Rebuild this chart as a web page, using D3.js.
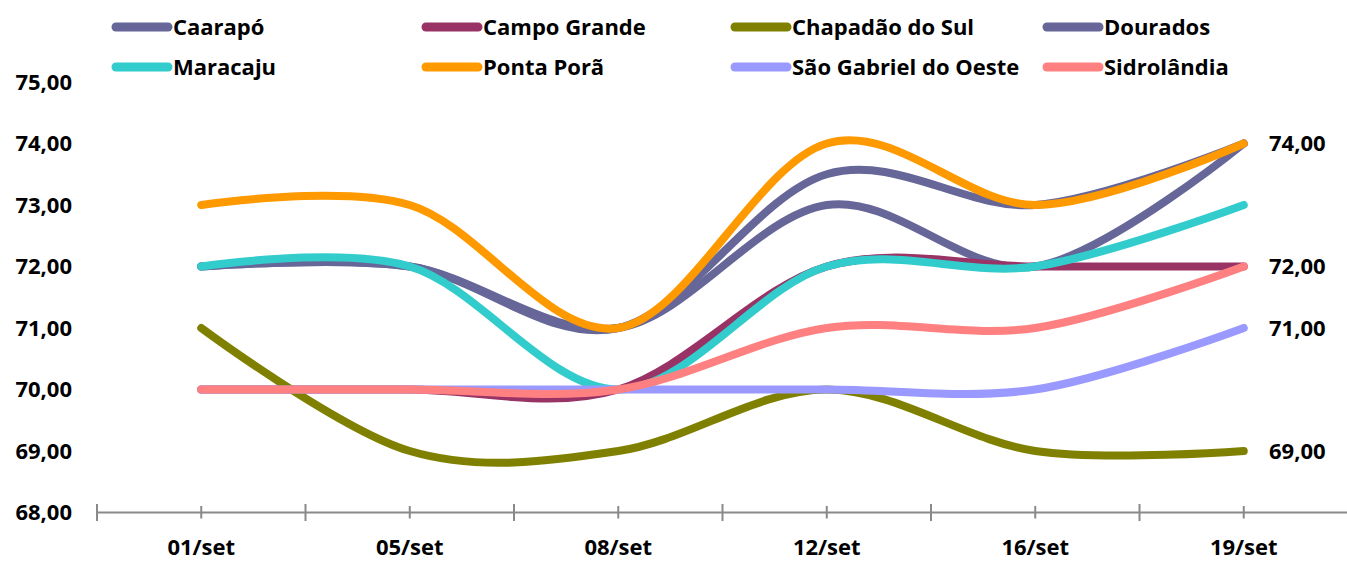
<!DOCTYPE html>
<html><head><meta charset="utf-8">
<script src="https://cdn.jsdelivr.net/npm/d3@7"></script>
<style>html,body{margin:0;padding:0;background:#fff;}svg{display:block;}</style>
</head><body>
<svg id="c" width="1347" height="561"></svg>
<script>
const categories = ["01/set","05/set","08/set","12/set","16/set","19/set"];
const seriesNames = ["Caarapó","Campo Grande","Chapadão do Sul","Dourados","Maracaju","Ponta Porã","São Gabriel do Oeste","Sidrolândia"];
const caarapo      = [72, 72, 71, 73,   72, 74];
const campoGrande  = [70, 70, 70, 72,   72, 72];
const chapadao     = [71, 69, 69, 70,   69, 69];
const dourados     = [72, 72, 71, 73.5, 73, 74];
const maracaju     = [72, 72, 70, 72,   72, 73];
const pontaPora    = [73, 73, 71, 74,   73, 74];
const saoGabriel   = [70, 70, 70, 70,   70, 71];
const sidrolandia  = [70, 70, 70, 71,   71, 72];
const seriesValues = [caarapo, campoGrande, chapadao, dourados, maracaju, pontaPora, saoGabriel, sidrolandia];
const seriesColors = ["#666699","#993366","#808000","#666699","#33CCCC","#FF9900","#9999FF","#FF8080"];
const yTicks = [68,69,70,71,72,73,74,75];
const labeledSeries = ["Chapadão do Sul","Ponta Porã","São Gabriel do Oeste","Sidrolândia"];

const svg = d3.select("#c");
const FONT = "'Open Sans', 'Liberation Sans', sans-serif";
const FS = 22;
const fmt = v => d3.format(".2f")(v).replace(".", ",");

const x = d3.scaleBand().domain(categories).range([97, 1348]);
const y = d3.scaleLinear().domain([68, 75]).range([512.5, 82]);
const cx = c => x(c) + x.bandwidth() / 2;

// x axis line
svg.append("line").attr("x1", 97).attr("x2", 1347).attr("y1", y(68)).attr("y2", y(68))
  .attr("stroke", "#898989").attr("stroke-width", 2);
// major ticks at band boundaries
const bounds = categories.map(c => x(c)).concat([x.range()[1]]);
svg.selectAll(".maj").data(bounds).join("line")
  .attr("x1", d => d).attr("x2", d => d).attr("y1", y(68) - 8.5).attr("y2", y(68) + 8.5)
  .attr("stroke", "#898989").attr("stroke-width", 2);
// minor ticks at centers
svg.selectAll(".min").data(categories).join("line")
  .attr("x1", d => cx(d)).attr("x2", d => cx(d)).attr("y1", y(68) - 6.5).attr("y2", y(68) + 6)
  .attr("stroke", "#898989").attr("stroke-width", 2);
// category labels
svg.selectAll(".cl").data(categories).join("text")
  .attr("x", d => cx(d)).attr("y", 555).attr("text-anchor", "middle")
  .attr("font-family", FONT).attr("font-weight", "bold").attr("font-size", FS)
  .attr("fill", "#000").text(d => d);
// y labels
svg.selectAll(".yl").data(yTicks).join("text")
  .attr("x", 72).attr("y", d => y(d)).attr("dy", "0.36em").attr("text-anchor", "end")
  .attr("font-family", FONT).attr("font-weight", "bold").attr("font-size", FS)
  .attr("fill", "#000").text(d => fmt(d));

// lines
const line = d3.line().x((d, i) => cx(categories[i])).y(d => y(d)).curve(d3.curveCardinal.tension(0));
seriesValues.forEach((vals, i) => {
  svg.append("path").attr("d", line(vals)).attr("fill", "none")
    .attr("stroke", seriesColors[i]).attr("stroke-width", 8)
    .attr("stroke-linecap", "round").attr("stroke-linejoin", "round");
});

// end labels
seriesNames.forEach((n, i) => {
  if (!labeledSeries.includes(n)) return;
  const v = seriesValues[i][categories.length - 1];
  svg.append("text").attr("x", 1269).attr("y", y(v)).attr("dy", "0.36em")
    .attr("font-family", FONT).attr("font-weight", "bold").attr("font-size", FS)
    .attr("fill", "#000").text(fmt(v));
});

// legend
const legX = [112, 422, 731, 1043];
const legY = [27, 67];
seriesNames.forEach((n, i) => {
  const lx = legX[i % 4], ly = legY[Math.floor(i / 4)];
  svg.append("line").attr("x1", lx + 4).attr("x2", lx + 56).attr("y1", ly).attr("y2", ly)
    .attr("stroke", seriesColors[i]).attr("stroke-width", 9).attr("stroke-linecap", "round");
  svg.append("text").attr("x", lx + 61).attr("y", ly).attr("dy", "0.36em")
    .attr("font-family", FONT).attr("font-weight", "bold").attr("font-size", FS)
    .attr("fill", "#000").text(n);
});
</script>
</body></html>
